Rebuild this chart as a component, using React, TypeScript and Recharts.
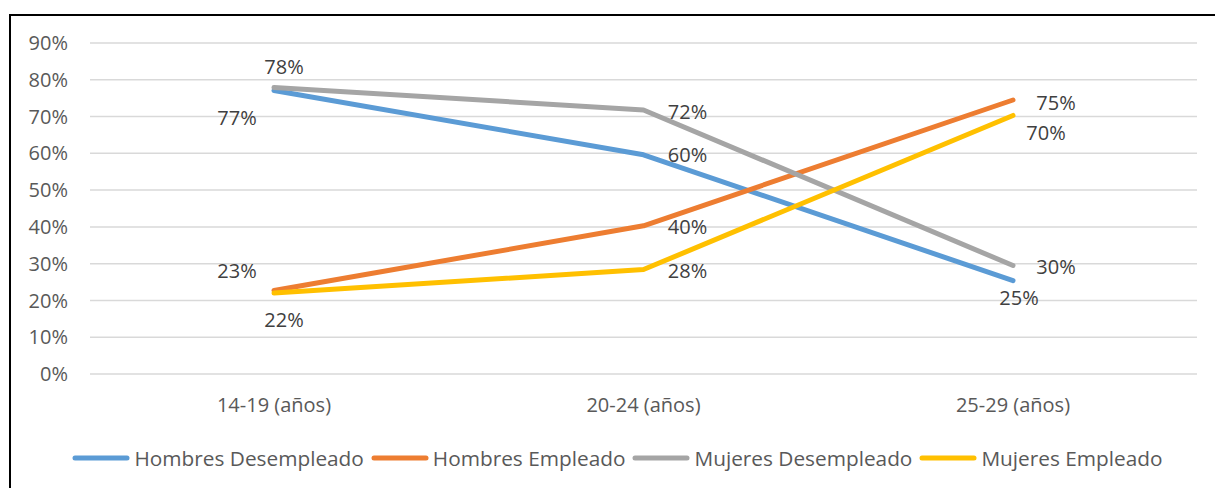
import { LineChart, Line, XAxis, YAxis, CartesianGrid, LabelList } from 'recharts';

const categories = ['14-19 (años)', '20-24 (años)', '25-29 (años)'];
const hombresDesempleado = [77.1, 59.6, 25.4];
const hombresEmpleado = [22.7, 40.3, 74.5];
const mujeresDesempleado = [77.9, 71.8, 29.5];
const mujeresEmpleado = [22.0, 28.4, 70.3];
const yTicks = [0, 10, 20, 30, 40, 50, 60, 70, 80, 90];

// label offsets (dx, dy) per point, to mimic the Excel placement
const series = [
  { key: 'hd', name: 'Hombres Desempleado', color: '#5B9BD5', values: hombresDesempleado, offsets: [[-37, 27], [44, 0], [6, 17]] },
  { key: 'he', name: 'Hombres Empleado', color: '#ED7D31', values: hombresEmpleado, offsets: [[-37, -20], [44, 1], [43, 2]] },
  { key: 'md', name: 'Mujeres Desempleado', color: '#A5A5A5', values: mujeresDesempleado, offsets: [[10, -21], [44, 2], [43, 1]] },
  { key: 'me', name: 'Mujeres Empleado', color: '#FFC000', values: mujeresEmpleado, offsets: [[10, 26], [44, 1], [33, 17]] },
];

const data = categories.map((cat, i) => {
  const row: Record<string, string | number> = { cat };
  series.forEach(s => { row[s.key] = s.values[i]; });
  return row;
});

const FONT = '"Open Sans", sans-serif';

function makeLabel(offsets: number[][]) {
  return (props: any) => {
    const { x, y, value, index } = props;
    const [dx, dy] = offsets[index] || [0, 0];
    return (
      <text x={x + dx} y={y + dy} textAnchor="middle" dominantBaseline="central"
        fill="#404040" fontSize={20} fontFamily={FONT}>
        {`${Math.round(value)}%`}
      </text>
    );
  };
}

export default function App() {
  return (
    <div style={{ position: 'absolute', left: 0, top: 0, width: 1215, height: 488, background: '#fff', fontFamily: FONT, overflow: 'hidden' }}>
      <div style={{ position: 'absolute', left: 9, top: 14, width: 1215, height: 488, borderTop: '2px solid #000', borderLeft: '2px solid #000' }} />
      <LineChart width={1215} height={488} data={data} margin={{ top: 43, right: 18, bottom: 84, left: 0 }}>
        <CartesianGrid vertical={false} stroke="#d9d9d9" strokeWidth={1.5} />
        <XAxis dataKey="cat" axisLine={false} tickLine={false} padding={{ left: 184, right: 184 }}
          tickMargin={18} tick={{ fill: '#595959', fontSize: 20, fontFamily: FONT }} interval={0} />
        <YAxis domain={[0, 90]} ticks={yTicks} width={90} axisLine={false} tickLine={false} tickMargin={16}
          tickFormatter={(v: number) => `${v}%`} tick={{ fill: '#595959', fontSize: 20, fontFamily: FONT }} />
        {series.map(s => (
          <Line key={s.key} dataKey={s.key} name={s.name} stroke={s.color} strokeWidth={5}
            dot={false} activeDot={false} isAnimationActive={false} strokeLinecap="round" strokeLinejoin="round">
            <LabelList dataKey={s.key} content={makeLabel(s.offsets)} />
          </Line>
        ))}
      </LineChart>
      <div style={{ position: 'absolute', left: 0, top: 443, width: 1215, display: 'flex', justifyContent: 'center', alignItems: 'center', paddingLeft: 27, boxSizing: 'border-box' }}>
        {series.map(s => (
          <div key={s.key} style={{ display: 'flex', alignItems: 'center', marginRight: 7 }}>
            <svg width={58} height={10} style={{ marginRight: 4 }}>
              <line x1={3} y1={5} x2={55} y2={5} stroke={s.color} strokeWidth={5} strokeLinecap="round" />
            </svg>
            <span style={{ fontSize: 20.8, color: '#595959', lineHeight: '30px' }}>{s.name}</span>
          </div>
        ))}
      </div>
    </div>
  );
}
